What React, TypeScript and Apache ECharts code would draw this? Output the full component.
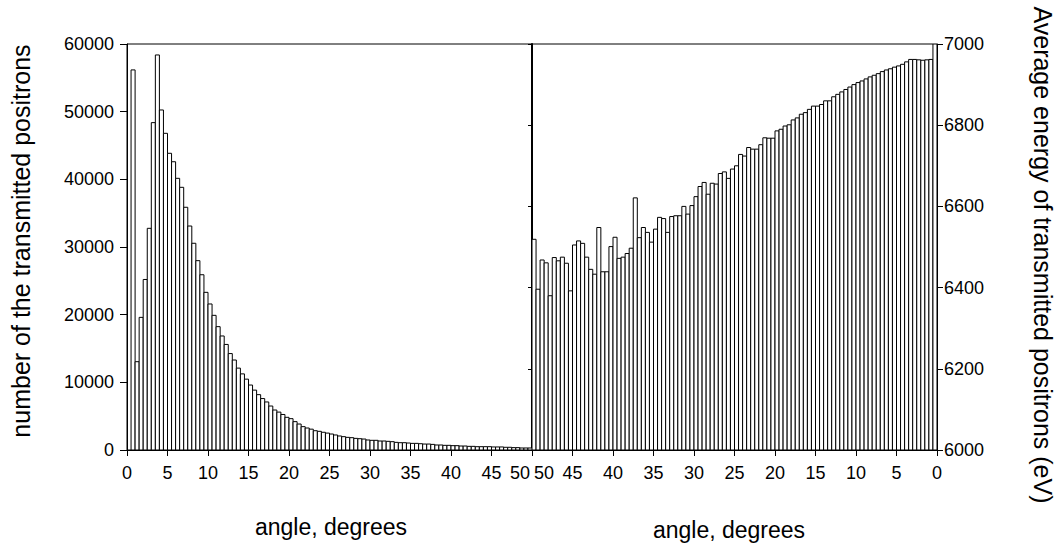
import React, { useEffect, useRef } from "react";
import * as echarts from "echarts";

// bin width in degrees
const binWidth = 0.5;

// Left panel: number of transmitted positrons per 0.5 degree bin, from 0 to 50 degrees
const leftCounts = [
  0, 56170, 13050, 19600, 25200, 32760, 48380, 58380, 50250, 46800,
  43850, 42600, 40150, 38820, 35870, 33100, 30550, 27980, 25900, 23300,
  21580, 19900, 18230, 16850, 15600, 14250, 13300, 12100, 11250, 10470,
  9600, 8850, 8180, 7600, 7100, 6500, 5910, 5600, 5250, 4830,
  4630, 4190, 3840, 3450, 3250, 3080, 2850, 2760, 2620, 2500,
  2360, 2220, 2070, 1970, 1870, 1820, 1720, 1670, 1620, 1480,
  1430, 1430, 1330, 1330, 1280, 1230, 1130, 1080, 1080, 1030,
  980, 980, 930, 880, 880, 830, 740, 740, 690, 690,
  640, 640, 590, 590, 540, 540, 490, 490, 490, 490,
  450, 450, 450, 400, 400, 350, 350, 300, 300, 300,
];

// Right panel: average energy (eV) per 0.5 degree bin, from 50 down to 0 degrees
const rightEnergy = [
  6519, 6396, 6468, 6461, 6380, 6474, 6466, 6475, 6460, 6392,
  6505, 6515, 6509, 6475, 6445, 6433, 6548, 6439, 6439, 6501,
  6524, 6472, 6475, 6484, 6497, 6621, 6523, 6548, 6536, 6512,
  6544, 6573, 6570, 6536, 6575, 6577, 6577, 6600, 6581, 6602,
  6624, 6649, 6659, 6630, 6657, 6655, 6681, 6685, 6669, 6692,
  6700, 6728, 6724, 6745, 6741, 6741, 6752, 6769, 6768, 6768,
  6786, 6790, 6798, 6801, 6813, 6818, 6827, 6831, 6839, 6847,
  6847, 6851, 6860, 6860, 6870, 6876, 6882, 6888, 6894, 6900,
  6905, 6909, 6914, 6919, 6923, 6927, 6932, 6936, 6939, 6943,
  6946, 6950, 6956, 6962, 6962, 6961, 6960, 6961, 6962, 7000,
];

const angleMax = 50;
const leftYMax = 60000;
const rightYMin = 6000;
const rightYMax = 7000;

const leftTitle = "number of the transmitted positrons";
const rightTitle = "Average energy of transmitted positrons (eV)";
const xTitle = "angle, degrees";

const FONT = '"Liberation Sans", Arial, Helvetica, sans-serif';

function makeRender(base: number) {
  return (params: any, api: any) => {
    const x0 = api.value(0);
    const x1 = api.value(1);
    const y = api.value(2);
    if (!(y > base)) return null;
    const p0 = api.coord([x0, y]);
    const p1 = api.coord([x1, base]);
    const left = Math.min(p0[0], p1[0]);
    const w = Math.abs(p1[0] - p0[0]);
    return {
      type: "rect",
      shape: { x: left, y: p0[1], width: w, height: p1[1] - p0[1] },
      style: { fill: "#ffffff", stroke: "#000000", lineWidth: 1 },
    };
  };
}

export default function App() {
  const ref = useRef<HTMLDivElement>(null);
  useEffect(() => {
    if (!ref.current) return;
    const chart = echarts.init(ref.current, undefined, { renderer: "svg" });

    const leftData = leftCounts.map((v, i) => [i * binWidth, (i + 1) * binWidth, v]);
    const rightData = rightEnergy.map((v, i) => [
      angleMax - i * binWidth,
      angleMax - (i + 1) * binWidth,
      v,
    ]);

    const axisLabel = { color: "#000", fontSize: 18, fontFamily: FONT };
    const axisLine = { show: true, lineStyle: { color: "#000", width: 1 } };
    const axisTick = { show: true, length: 6, lineStyle: { color: "#000" } };
    const plain = (v: number) => String(v);
    // the two shared "50" labels at the panel junction are offset to each side
    const noMax = (v: number) => (v === angleMax ? "" : String(v));

    chart.setOption({
      animation: false,
      backgroundColor: "#ffffff",
      grid: [
        { left: 127, top: 44, width: 405, height: 406, show: true, borderColor: "#000", borderWidth: 1, backgroundColor: "transparent" },
        { left: 532, top: 44, width: 405, height: 406, show: true, borderColor: "#000", borderWidth: 1, backgroundColor: "transparent" },
      ],
      xAxis: [
        {
          type: "value", gridIndex: 0, min: 0, max: angleMax, interval: 5,
          axisLine, axisTick, splitLine: { show: false },
          axisLabel: { ...axisLabel, margin: 14, formatter: noMax },
        },
        {
          type: "value", gridIndex: 1, min: 0, max: angleMax, interval: 5, inverse: true,
          axisLine, axisTick, splitLine: { show: false },
          axisLabel: { ...axisLabel, margin: 14, formatter: noMax },
        },
      ],
      yAxis: [
        {
          type: "value", gridIndex: 0, min: 0, max: leftYMax, interval: 10000,
          axisLine, axisTick: { ...axisTick, length: 7 }, splitLine: { show: false },
          axisLabel: { ...axisLabel, margin: 13, formatter: plain },
        },
        {
          type: "value", gridIndex: 1, position: "right", min: rightYMin, max: rightYMax, interval: 200,
          axisLine, axisTick, splitLine: { show: false },
          axisLabel: { ...axisLabel, margin: 7, formatter: plain },
        },
        {
          type: "value", gridIndex: 1, position: "left", min: rightYMin, max: rightYMax, interval: 200,
          axisLine: { show: true, lineStyle: { color: "#000", width: 2 } },
          axisTick: { show: true, length: 4, lineStyle: { color: "#000" } },
          axisLabel: { show: false }, splitLine: { show: false },
        },
      ],
      series: [
        {
          type: "custom", xAxisIndex: 0, yAxisIndex: 0, clip: true,
          renderItem: makeRender(0), encode: { x: [0, 1], y: 2 }, data: leftData,
        },
        {
          type: "custom", xAxisIndex: 1, yAxisIndex: 1, clip: true,
          renderItem: makeRender(rightYMin), encode: { x: [0, 1], y: 2 }, data: rightData,
        },
      ],
      graphic: [
        {
          type: "text", x: 530, y: 464,
          style: { text: String(angleMax), fill: "#000", font: `18px ${FONT}`, align: "right", verticalAlign: "top" },
        },
        {
          type: "text", x: 534, y: 464,
          style: { text: String(angleMax), fill: "#000", font: `18px ${FONT}`, align: "left", verticalAlign: "top" },
        },
        {
          type: "text", x: 21, y: 241, rotation: Math.PI / 2,
          style: { text: leftTitle, fill: "#000", font: `25px ${FONT}`, align: "center", verticalAlign: "middle" },
        },
        {
          type: "text", x: 1043, y: 255, rotation: -Math.PI / 2,
          style: { text: rightTitle, fill: "#000", font: `25px ${FONT}`, align: "center", verticalAlign: "middle" },
        },
        {
          type: "text", x: 331, y: 527,
          style: { text: xTitle, fill: "#000", font: `23px ${FONT}`, align: "center", verticalAlign: "middle" },
        },
        {
          type: "text", x: 729, y: 530,
          style: { text: xTitle, fill: "#000", font: `23px ${FONT}`, align: "center", verticalAlign: "middle" },
        },
      ],
    });
    return () => chart.dispose();
  }, []);
  return (
    <div
      ref={ref}
      style={{ position: "fixed", left: 0, top: 0, width: 1057, height: 544, background: "#fff" }}
    />
  );
}
